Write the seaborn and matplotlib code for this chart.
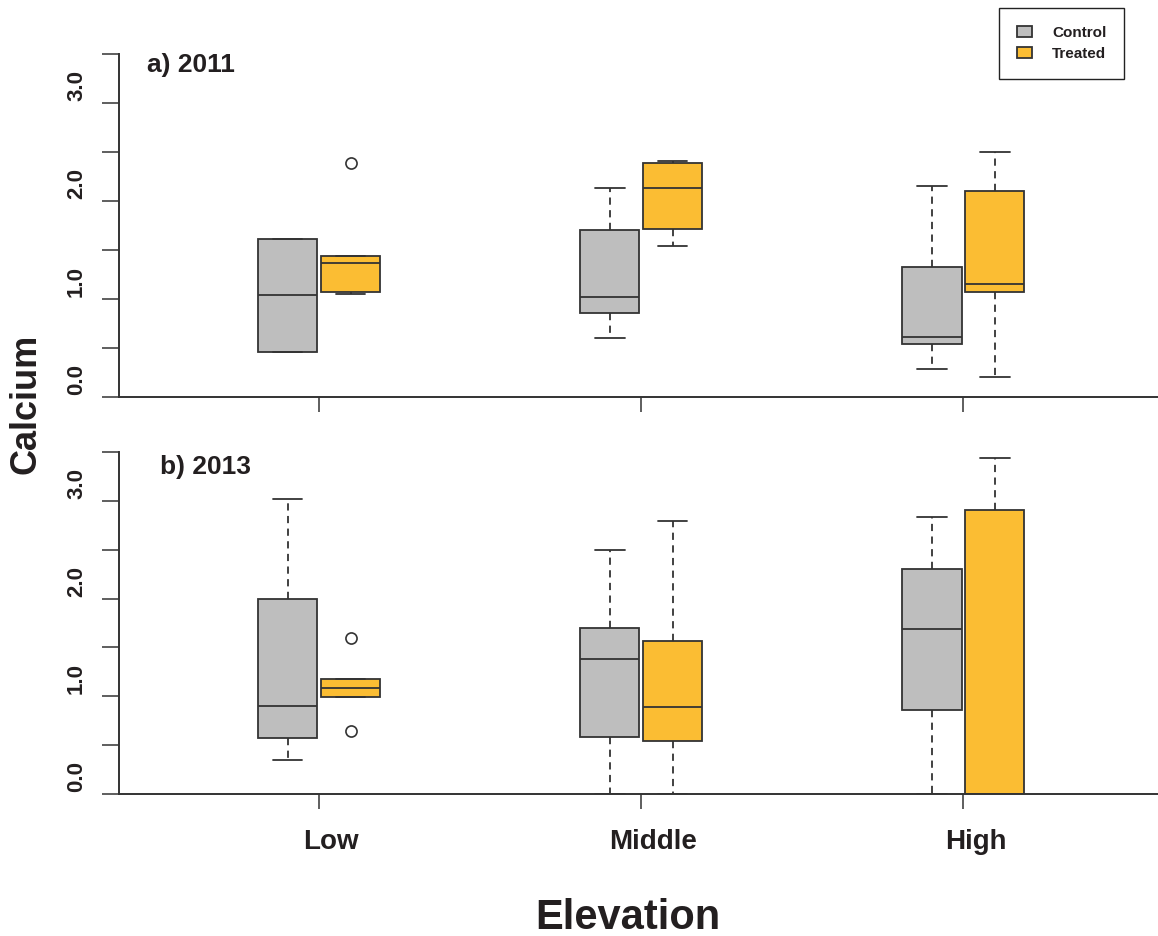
""" Calcium by elevation, control vs treated, for 2011 and 2013.

Two stacked boxplot panels sharing the elevation categories.
"""

import numpy as np
import pandas as pd
import matplotlib
matplotlib.use("Agg")
import matplotlib.pyplot as plt
import matplotlib.transforms as mtransforms
import seaborn as sns


# --------------------------------------------------------
#       DATA
# --------------------------------------------------------

elevations = ["Low", "Middle", "High"]
treatments = ["Control", "Treated"]
panel_titles = ["a) 2011", "b) 2013"]
ytick_labels = ["0.0", "", "1.0", "", "2.0", "", "3.0", ""]

# 2011 samples
ca2011_low_control = [0.46, 0.46, 1.04, 1.61, 1.61]
ca2011_low_treated = [1.05, 1.06, 1.07, 1.20, 1.37, 1.40, 1.44, 1.44, 2.39]
ca2011_mid_control = [0.60, 0.86, 1.02, 1.70, 2.13]
ca2011_mid_treated = [1.54, 1.71, 2.13, 2.39, 2.41]
ca2011_high_control = [0.29, 0.54, 0.61, 1.33, 2.15]
ca2011_high_treated = [0.20, 1.07, 1.15, 2.10, 2.50]

# 2013 samples
ca2013_low_control = [0.35, 0.58, 0.90, 2.00, 3.02]
ca2013_low_treated = [0.65, 0.99, 0.99, 1.05, 1.09, 1.15, 1.18, 1.18, 1.60]
ca2013_mid_control = [0.00, 0.59, 1.38, 1.70, 2.50]
ca2013_mid_treated = [0.00, 0.54, 0.89, 1.57, 2.79]
ca2013_high_control = [0.00, 0.86, 1.69, 2.30, 2.83]
ca2013_high_treated = [0.00, 0.00, 0.00, 2.90, 3.44]

# colours
BOX_COLORS = ["#bebebe", "#fbbd33"]
EDGE = "#333333"
TEXT = "#231f20"


def build_frame():
    """long format table: year / elevation / treatment / calcium"""
    groups = [
        (2011, "Low", "Control", ca2011_low_control),
        (2011, "Low", "Treated", ca2011_low_treated),
        (2011, "Middle", "Control", ca2011_mid_control),
        (2011, "Middle", "Treated", ca2011_mid_treated),
        (2011, "High", "Control", ca2011_high_control),
        (2011, "High", "Treated", ca2011_high_treated),
        (2013, "Low", "Control", ca2013_low_control),
        (2013, "Low", "Treated", ca2013_low_treated),
        (2013, "Middle", "Control", ca2013_mid_control),
        (2013, "Middle", "Treated", ca2013_mid_treated),
        (2013, "High", "Control", ca2013_high_control),
        (2013, "High", "Treated", ca2013_high_treated),
    ]
    rows = []
    for year, elev, trt, values in groups:
        for v in values:
            rows.append({"year": year, "elevation": elev, "treatment": trt, "calcium": v})
    return pd.DataFrame(rows)


# --------------------------------------------------------
#       PLOTS
# --------------------------------------------------------

def plot_panel(fig, ax, pd_year, title, bottom_labels, with_legend):
    """one boxplot panel"""
    sns.boxplot(
        data=pd_year, x="elevation", y="calcium", hue="treatment",
        order=elevations, hue_order=treatments, palette=BOX_COLORS,
        saturation=1, width=0.39, gap=0.06, whis=1.5,
        linecolor=EDGE, linewidth=1.3, fliersize=8,
        whiskerprops={"linestyle": (0, (4, 3))},
        flierprops={"marker": "o", "markerfacecolor": "none",
                    "markeredgecolor": EDGE, "markeredgewidth": 1.2},
        legend=with_legend, ax=ax,
    )
    ax.set_xlim(-0.621, 2.604)
    ax.set_ylim(0, 3.5)
    ax.set_xlabel("")
    ax.set_ylabel("")
    sns.despine(ax=ax)

    ax.set_yticks(np.arange(0, 3.51, 0.5))
    ax.set_yticklabels(ytick_labels, rotation=90, va="center",
                       fontsize=16, fontweight="bold")
    ax.tick_params(axis="y", length=12, width=1.1, pad=11, color=EDGE, labelcolor=TEXT)
    ax.tick_params(axis="x", length=11, width=1.1, pad=14, color=EDGE, labelcolor=TEXT)

    # tick labels sit a little off their ticks in the original
    shift_y = mtransforms.ScaledTranslation(0, 0.175, fig.dpi_scale_trans)
    for lab in ax.get_yticklabels():
        lab.set_transform(lab.get_transform() + shift_y)

    if bottom_labels:
        ax.set_xticks(range(len(elevations)))
        ax.set_xticklabels(elevations, fontsize=20, fontweight="bold")
        shift_x = mtransforms.ScaledTranslation(0.12, 0, fig.dpi_scale_trans)
        for lab in ax.get_xticklabels():
            lab.set_transform(lab.get_transform() + shift_x)
    else:
        ax.tick_params(axis="x", labelbottom=False)

    ax.text(title[1], title[2], title[0], transform=ax.transAxes,
            fontsize=19, fontweight="bold", ha="left", va="center")


# --------------------------------------------------------
#       MAIN
# --------------------------------------------------------

if __name__ == "__main__":

    pd_all = build_frame()

    sns.set_theme(style="ticks", rc={
        "axes.edgecolor": EDGE,
        "axes.linewidth": 1.4,
        "xtick.color": EDGE,
        "ytick.color": EDGE,
        "text.color": TEXT,
        "legend.edgecolor": "#222222",
        "legend.framealpha": 1,
    })
    plt.rcParams["font.family"] = ["Liberation Sans", "DejaVu Sans"]

    fig = plt.figure(figsize=(11.58, 9.36), dpi=100)
    ax_a = fig.add_axes([0.1028, 0.5759, 0.8972, 0.3665])
    ax_b = fig.add_axes([0.1028, 0.1514, 0.8972, 0.3660])

    plot_panel(fig, ax_a, pd_all[pd_all["year"] == 2011],
               (panel_titles[0], 0.027, 0.968), bottom_labels=False, with_legend=True)
    plot_panel(fig, ax_b, pd_all[pd_all["year"] == 2013],
               (panel_titles[1], 0.039, 0.955), bottom_labels=True, with_legend=False)

    sns.move_legend(
        ax_a, "upper right",
        bbox_to_anchor=(1124 / 1158, 1 - 8 / 936), bbox_transform=fig.transFigure,
        title=None, frameon=True, fancybox=False, borderaxespad=0,
        prop={"weight": "bold", "size": 11},
        handlelength=1.0, handleheight=0.72, handletextpad=1.3,
        borderpad=1.15, labelspacing=0.5,
    )
    ax_a.get_legend().get_frame().set_linewidth(1.0)

    fig.supylabel("Calcium", x=0.0225, y=0.568, fontsize=26, fontweight="bold",
                  ha="center", va="center")
    fig.supxlabel("Elevation", x=0.542, y=0.0192, fontsize=30, fontweight="bold",
                  ha="center", va="center")

    fig.savefig("out.png", dpi=100)
